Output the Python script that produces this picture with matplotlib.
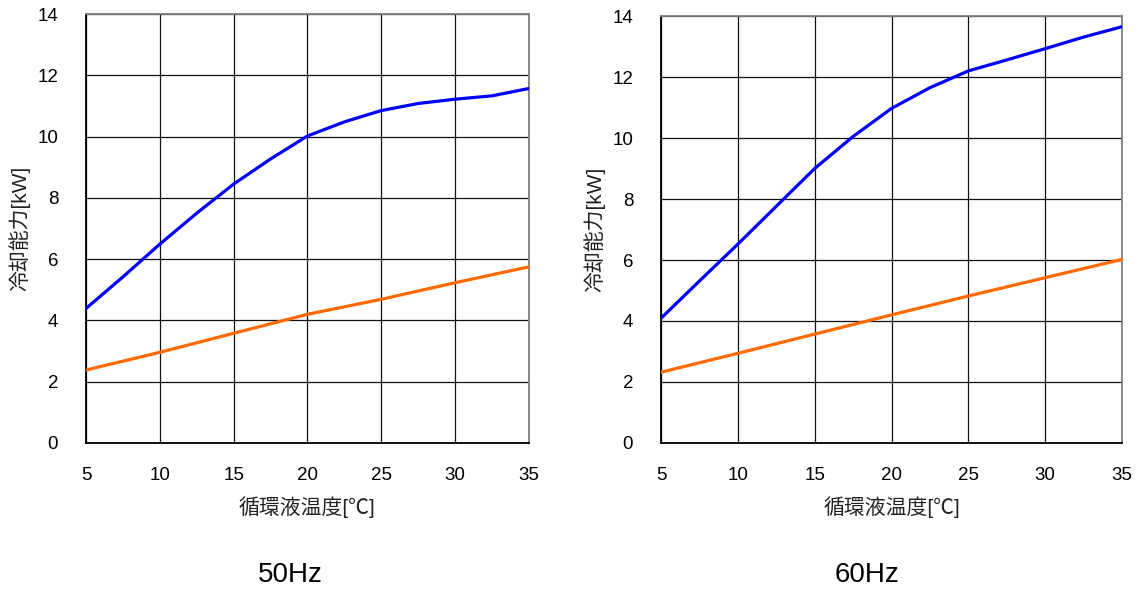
import matplotlib
matplotlib.use("Agg")
import matplotlib.pyplot as plt

# 循環液温度 [℃]
temp_blue = [5, 7.5, 10, 12.5, 15, 17.5, 20, 22.5, 25, 27.5, 30, 32.5, 35]
temp_orange = [5, 10, 15, 20, 25, 30, 35]

# 50Hz
cap50_blue = [4.39, 5.42, 6.49, 7.5, 8.45, 9.27, 10.02, 10.48, 10.85, 11.08, 11.22, 11.33, 11.57]
cap50_orange = [2.38, 2.96, 3.58, 4.2, 4.69, 5.23, 5.75]

# 60Hz
cap60_blue = [4.09, 5.31, 6.52, 7.76, 9.0, 10.05, 10.97, 11.65, 12.2, 12.56, 12.93, 13.31, 13.65]
cap60_orange = [2.32, 2.94, 3.57, 4.2, 4.82, 5.42, 6.02]

x_ticks = [5, 10, 15, 20, 25, 30, 35]
y_ticks = [0, 2, 4, 6, 8, 10, 12, 14]

fonts = ["Liberation Sans", "Noto Sans CJK JP"]
plt.rcParams["font.family"] = fonts

fig = plt.figure(figsize=(11.42, 5.89), dpi=100)
ax1 = fig.add_axes([0.0753, 0.2479, 0.3879, 0.7283])
ax2 = fig.add_axes([0.5788, 0.2479, 0.4037, 0.7249])

panels = [
    (ax1, cap50_blue, cap50_orange, "50Hz", 290 / 1142),
    (ax2, cap60_blue, cap60_orange, "60Hz", 867 / 1142),
]

for ax, blue, orange, title, tx in panels:
    ax.plot(temp_blue, blue, color="#0000ff", lw=2.3, zorder=3)
    ax.plot(temp_orange, orange, color="#ff6a00", lw=2.3, zorder=3)
    ax.set_xlim(5, 35)
    ax.set_ylim(0, 14)
    ax.set_xticks(x_ticks)
    ax.set_yticks(y_ticks)
    ax.grid(True, color="#111111", lw=0.9)
    ax.tick_params(length=0, labelsize=13.5, colors="black")
    ax.tick_params(axis="x", pad=17)
    ax.tick_params(axis="y", pad=20)
    for s in ["left", "bottom"]:
        ax.spines[s].set_color("black")
        ax.spines[s].set_linewidth(1.3)
    for s in ["top", "right"]:
        ax.spines[s].set_color("#808080")
        ax.spines[s].set_linewidth(1.3)
    ax.set_xlabel("循環液温度[℃]", fontsize=15, labelpad=9, color="#222222")
    ax.set_ylabel("冷却能力[kW]", fontsize=15, labelpad=5, color="#222222")
    fig.text(tx, 1 - 575 / 589, title, fontsize=20, ha="center", va="center")

fig.savefig("out.png", dpi=100)
